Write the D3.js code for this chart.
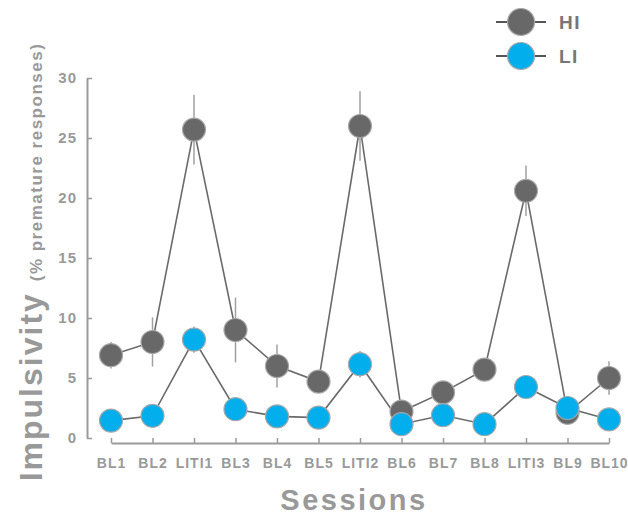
<!DOCTYPE html>
<html><head><meta charset="utf-8">
<script src="https://cdn.jsdelivr.net/npm/d3@7"></script>
<style>body{margin:0;background:#fff}svg{display:block;font-family:"Liberation Sans",Arial,sans-serif}</style>
</head><body>
<svg id="c" width="628" height="520"></svg>
<script>
const sessions = ["BL1","BL2","LITI1","BL3","BL4","BL5","LITI2","BL6","BL7","BL8","LITI3","BL9","BL10"];
const hiMean = [6.9, 8.0, 25.7, 9.0, 6.0, 4.7, 26.0, 2.2, 3.8, 5.7, 20.6, 2.1, 5.0];
const hiSem  = [1.1, 2.05, 2.9, 2.7, 1.8, 0.6, 2.9, 0.5, 0.7, 0.6, 2.1, 0.5, 1.4];
const liMean = [1.45, 1.85, 8.2, 2.4, 1.8, 1.7, 6.15, 1.15, 1.9, 1.15, 4.25, 2.5, 1.55];
const liSem  = [0.4, 0.5, 1.1, 0.5, 0.4, 0.4, 1.1, 0.4, 0.5, 0.4, 0.6, 0.5, 0.4];
const yTicks = [0, 5, 10, 15, 20, 25, 30];
const seriesNames = ["HI", "LI"];

const svg = d3.select("#c");
const x = d3.scalePoint().domain(sessions).range([111, 609]);
const y = d3.scaleLinear().domain([0, 30]).range([438, 78]);
const axisCol = "#9a9a9a", textCol = "#999999";

// Y axis
const ya = svg.append("g").attr("transform","translate(87,0)")
  .call(d3.axisRight(y).tickValues(yTicks).tickSize(5).tickSizeOuter(0).tickFormat(d3.format("d")));
ya.select(".domain").attr("stroke",axisCol).attr("stroke-width",2);
ya.selectAll(".tick line").attr("stroke",axisCol).attr("stroke-width",1.5);
ya.selectAll(".tick text").attr("x",-10).attr("text-anchor","end").attr("fill",textCol)
  .style("font-size","15px").style("font-weight","bold").style("letter-spacing","1px");

// X axis
const xa = svg.append("g").attr("transform","translate(0,443)")
  .call(d3.axisTop(x).tickSize(5).tickSizeOuter(0));
xa.select(".domain").attr("stroke",axisCol).attr("stroke-width",2);
xa.selectAll(".tick text").attr("y",25).attr("dy",0).attr("fill",textCol)
  .style("font-size","14px").style("font-weight","bold").style("letter-spacing","1px");
xa.selectAll(".tick line").attr("stroke",axisCol).attr("stroke-width",1.5);

// Titles
svg.append("text").attr("x",354).attr("y",510).attr("text-anchor","middle").attr("fill",textCol)
  .style("font-size","29px").style("font-weight","bold").style("letter-spacing","2.5px").text("Sessions");
const yt = svg.append("text").attr("transform","translate(42,262) rotate(-90)").attr("text-anchor","middle").attr("fill",textCol);
yt.append("tspan").style("font-size","32px").style("font-weight","bold").style("letter-spacing","2px").text("Impulsivity ");
yt.append("tspan").style("font-size","17px").style("font-weight","bold").style("letter-spacing","1.5px").text("(% premature responses)");

const series = [
  {name: seriesNames[0], mean: hiMean, sem: hiSem, fill: "#686868"},
  {name: seriesNames[1], mean: liMean, sem: liSem, fill: "#02aeec"}
];

// Error bars
series.forEach(s => {
  svg.append("g").selectAll("line").data(sessions).join("line")
    .attr("x1", d => x(d)).attr("x2", d => x(d))
    .attr("y1", (d,i) => y(s.mean[i] + s.sem[i]))
    .attr("y2", (d,i) => y(s.mean[i] - s.sem[i]))
    .attr("stroke", "#a0a0a0").attr("stroke-width", 1.5);
});
// Lines
const line = d3.line().x(d => x(d.s)).y(d => y(d.v));
series.forEach(s => {
  svg.append("path").datum(sessions.map((k,i)=>({s:k, v:s.mean[i]})))
    .attr("d", line).attr("fill","none").attr("stroke","#6a6a6a").attr("stroke-width",1.6);
});
// Points
series.forEach(s => {
  svg.append("g").selectAll("circle").data(sessions).join("circle")
    .attr("cx", d => x(d)).attr("cy", (d,i) => y(s.mean[i])).attr("r", 11.5)
    .attr("fill", s.fill).attr("stroke", "#a8a8a8").attr("stroke-width", 1.2);
});

// Legend
const lg = svg.append("g");
series.forEach((s, i) => {
  const cy = 22 + i * 34;
  lg.append("line").attr("x1",496).attr("x2",546).attr("y1",cy).attr("y2",cy).attr("stroke","#555").attr("stroke-width",2);
  lg.append("circle").attr("cx",521).attr("cy",cy).attr("r",13.5).attr("fill",s.fill).attr("stroke","#a8a8a8").attr("stroke-width",1.2);
  lg.append("text").attr("x",559).attr("y",cy+7).attr("fill","#777").style("font-size","19px").style("font-weight","bold").style("letter-spacing","1.5px").text(s.name);
});
</script>
</body></html>
